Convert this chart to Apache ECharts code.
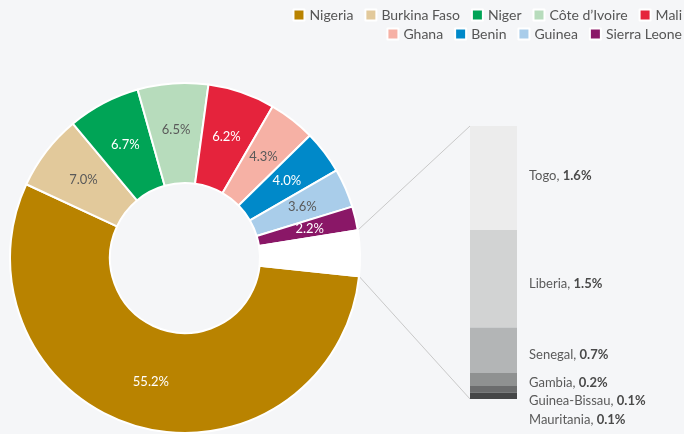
<!DOCTYPE html>
<html><head><meta charset="utf-8">
<script src="https://cdn.jsdelivr.net/npm/echarts@6/dist/echarts.min.js"></script>
<style>html,body{margin:0;padding:0;background:#f5f6f8}#c{width:684px;height:434px}</style>
</head><body><div id="c"></div>
<script>
const countries = ['Nigeria','Burkina Faso','Niger','Côte d’Ivoire','Mali','Ghana','Benin','Guinea','Sierra Leone'];
const shares = [55.2, 7.0, 6.7, 6.5, 6.2, 4.3, 4.0, 3.6, 2.2];
const otherCountries = ['Togo','Liberia','Senegal','Gambia','Guinea-Bissau','Mauritania'];
const otherShares = [1.6, 1.5, 0.7, 0.2, 0.1, 0.1];
const legendRow1 = countries.slice(0, 5);
const legendRow2 = countries.slice(5);

const colors = ['#b98300','#e2c99b','#00a456','#b7dcbc','#e5233c','#f6b1a5','#0089c9','#a9cdea','#8a1767'];
const labelColors = ['#ffffff','#5a5a5a','#ffffff','#5a5a5a','#ffffff','#5a5a5a','#ffffff','#5a5a5a','#ffffff'];
const barColors = ['#ececec','#d2d3d3','#b3b5b6','#8f9191','#6b6c6d','#454647'];
const labelOffsets = [[0,-2],[0,5],[0,5],[0,3],[0,12],[0,24]];
const FONT = 'Lato';

const otherSum = otherShares.reduce((a,b)=>a+b,0);
const total = shares.reduce((a,b)=>a+b,0) + otherSum;
const cx = 185, cy = 258, rIn = 75, rOut = 175, startAngle = -6;
const gridL = 470, gridT = 126, gridW = 47, gridH = 273;

const pieData = countries.map((c,i)=>({
  name: c, value: shares[i],
  itemStyle: {color: colors[i]},
  label: {color: labelColors[i]}
}));
pieData.push({name: 'Other', value: otherSum, itemStyle: {color: '#ffffff'}, label: {show: false}});

// angles of the "Other" slice edges (math convention, degrees)
const aTop = startAngle + (otherSum / total) * 360;
const aBot = startAngle;
const rad = d => d * Math.PI / 180;
const pTop = [cx + rOut * Math.cos(rad(aTop)), cy - rOut * Math.sin(rad(aTop))];
const pBot = [cx + rOut * Math.cos(rad(aBot)), cy - rOut * Math.sin(rad(aBot))];

const barSeries = otherCountries.map((c,i)=>({
  type: 'bar', stack: 'o', name: c, barWidth: '100%',
  data: [otherShares[i]],
  itemStyle: {color: barColors[i]},
  silent: true,
  label: {
    show: true, position: 'right', distance: 12, offset: labelOffsets[i],
    formatter: '{n|' + c + ', }{b|' + otherShares[i].toFixed(1) + '%}',
    rich: {
      n: {fontFamily: FONT, fontSize: 13, color: '#5a5a5a'},
      b: {fontFamily: FONT, fontSize: 13, color: '#4a4a4a', fontWeight: 'bold'}
    }
  }
}));

const legendCommon = {
  right: 2, icon: 'rect', itemWidth: 11, itemHeight: 11, itemGap: 11, padding: 0,
  textStyle: {fontFamily: FONT, fontSize: 14, color: '#555'}, selectedMode: false
};

const chart = echarts.init(document.getElementById('c'), null, {renderer: 'canvas'});
chart.setOption({
  backgroundColor: '#f5f6f8',
  animation: false,
  legend: [
    Object.assign({top: 8, data: legendRow1}, legendCommon),
    Object.assign({top: 27, data: legendRow2}, legendCommon)
  ],
  grid: {left: gridL, top: gridT, width: gridW, height: gridH},
  xAxis: {type: 'category', data: ['Other'], show: false},
  yAxis: {type: 'value', min: 0, max: otherSum, inverse: true, show: false},
  graphic: [
    {type: 'line', shape: {x1: pTop[0], y1: pTop[1], x2: gridL, y2: gridT}, style: {stroke: '#c9c9c9', lineWidth: 1}, silent: true},
    {type: 'line', shape: {x1: pBot[0], y1: pBot[1], x2: gridL, y2: gridT + gridH}, style: {stroke: '#c9c9c9', lineWidth: 1}, silent: true}
  ],
  series: [{
    type: 'pie', center: [cx, cy], radius: [rIn, rOut], startAngle: startAngle,
    clockwise: true, silent: true,
    itemStyle: {borderColor: '#ffffff', borderWidth: 2},
    label: {position: 'inside', formatter: p => p.value.toFixed(1) + '%', fontFamily: FONT, fontSize: 13},
    labelLine: {show: false},
    data: pieData
  }].concat(barSeries)
});
</script>
</body></html>
